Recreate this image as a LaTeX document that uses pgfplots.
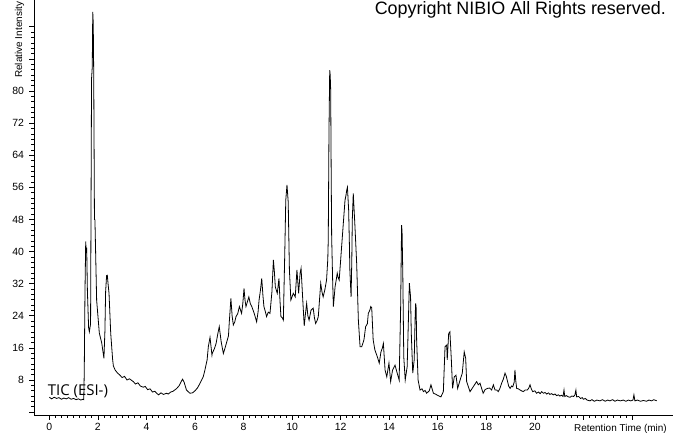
\documentclass[border=0pt]{standalone}
\usepackage{pgfplots}
\pgfplotsset{compat=1.18}
\usepackage{fontspec}
\setmainfont{Liberation Sans}
\newfontfamily\ticfont{Open Sans}
\begin{document}
\begin{tikzpicture}[x=1bp,y=1bp]
\useasboundingbox (0,0) rectangle (673,433);
\clip (0,0) rectangle (673,433);
\begin{axis}[
  at={(34bp,18bp)}, anchor=south west,
  scale only axis, width=639bp, height=415bp,
  xmin=-0.63, xmax=25.69, ymin=-0.72, ymax=102.67,
  axis x line=bottom, axis y line=left,
  axis line style={-, black, line width=0.8bp},
  tick align=outside,
  xtick={0,2,...,24}, xticklabels={0,2,4,6,8,10,12,14,16,18,20,,},
  ytick={0,8,...,96}, yticklabels={,8,16,24,32,40,48,56,64,72,80,,},
  minor x tick num=7, minor y tick num=5,
  major tick length=5bp, minor tick length=3bp,
  tick style={black, line width=0.6bp},
  tick label style={font=\fontsize{10.5}{12}\selectfont},
  yticklabel style={xshift=-1.5bp},
  /pgf/number format/assume math mode=true,
]
\addplot[black, line width=0.8bp] coordinates {
(0.0,3.7) (0.1,3.3) (0.2,3.7) (0.3,3.4) (0.4,3.6) (0.5,3.2) (0.6,3.5) (0.7,3.3) (0.8,3.6) (0.9,3.2) (1.0,3.4) (1.1,3.1) (1.2,3.3) (1.3,3.0) (1.38,3.2) (1.42,3.1)
(1.44,10) (1.47,30) (1.50,42.5) (1.52,39.6) (1.54,41) (1.57,30) (1.62,21) (1.65,20.0) (1.70,22)
(1.74,83) (1.77,86) (1.79,99.7) (1.81,97) (1.83,84) (1.86,48) (1.88,47.9) (1.95,27.9) (2.06,19.7) (2.16,17.2) (2.25,13.4)
(2.29,20) (2.32,30) (2.36,34) (2.39,34.1) (2.42,32) (2.46,29.6) (2.53,19.6) (2.61,13.0) (2.64,11.5) (2.71,10.5)
(2.80,9.8) (2.91,9.2) (3.0,8.6) (3.1,8.9) (3.2,8.0) (3.3,8.3) (3.46,7.6) (3.55,7.0) (3.65,7.3) (3.75,6.5) (3.87,6.2) (3.95,6.4) (4.05,5.6) (4.15,5.8) (4.25,5.0) (4.35,5.2) (4.42,4.7) (4.5,4.3) (4.6,4.8) (4.7,4.4) (4.83,4.7) (4.9,4.5) (5.0,5.0) (5.1,5.2) (5.25,5.9) (5.35,6.6) (5.45,7.8) (5.49,8.2) (5.55,7.5) (5.65,5.5) (5.79,4.7) (5.9,4.8) (6.0,5.3) (6.1,6.0) (6.21,7.2) (6.34,8.8) (6.41,10.5) (6.5,13.0) (6.55,16.3) (6.62,18.6) (6.70,14.2)
(6.71,14.6) (6.80,15.8) (6.87,17.1) (6.94,19.5) (7.0,21.3) (7.08,17.5) (7.17,14.6) (7.24,16.0) (7.31,17.5) (7.38,19.0) (7.41,22.1) (7.48,28.3) (7.53,24) (7.58,21.7) (7.64,22.5) (7.69,23.8) (7.76,24.5) (7.83,26.3) (7.92,24.6) (7.97,27) (8.02,30.8) (8.06,28) (8.10,26.3) (8.16,27.5) (8.22,28.7) (8.28,27.0) (8.34,26.3) (8.44,24.6) (8.54,22.5) (8.60,25) (8.64,27.9) (8.70,30.5) (8.75,33.3) (8.80,29) (8.84,26.3) (8.90,25) (8.95,23.8) (9.02,24.9) (9.09,24.6) (9.17,30.0) (9.23,37.9) (9.27,35) (9.31,31.2) (9.39,29.6) (9.46,33.3) (9.50,28) (9.54,23.8) (9.60,23.5) (9.64,22.9) (9.70,40) (9.74,52.8) (9.79,56.6) (9.84,52.4) (9.89,35.4) (9.95,27.9) (10.05,29.6) (10.13,28.7) (10.20,35.4) (10.27,29.6) (10.33,34.6) (10.37,35.8)
(10.44,28) (10.50,21.5) (10.56,25) (10.60,27.1) (10.65,24) (10.70,22.9) (10.78,25.4) (10.87,25.9) (10.92,23.5) (10.97,22.1) (11.03,22.8) (11.08,23.8) (11.13,28) (11.18,32.1) (11.23,30) (11.28,28.7) (11.35,30.5) (11.42,32.9) (11.47,38) (11.49,42.9) (11.52,70) (11.55,85.2) (11.57,84) (11.59,80.2) (11.61,60) (11.63,43.7) (11.67,33) (11.70,26.3) (11.74,29) (11.77,31.2) (11.82,33) (11.86,34.6) (11.90,33.5) (11.94,32.9) (11.99,37) (12.04,41.2) (12.11,47.0) (12.18,52.8) (12.22,54) (12.25,55.3) (12.28,56) (12.33,50.3) (12.36,42) (12.38,35.4) (12.43,28.7) (12.46,38) (12.48,47.9) (12.52,54.5) (12.59,46.2) (12.66,37.1) (12.73,22.9) (12.80,16.3) (12.87,16.3) (12.96,18.0) (13.03,21.3) (13.10,22) (13.14,24.6) (13.21,25.5) (13.24,26.3) (13.28,26.0)
(13.34,18.0) (13.41,15.5) (13.51,13.8) (13.59,12.2) (13.66,15.0) (13.72,16) (13.76,17.1) (13.83,10.5) (13.90,8.8) (13.99,12.2) (14.06,7.6) (14.14,10.5) (14.24,11.7) (14.33,9.7) (14.41,8.0) (14.47,25.4) (14.51,46.6) (14.53,45) (14.56,34.6) (14.60,13.8) (14.66,8.0) (14.74,11.3) (14.80,25) (14.83,32.1) (14.88,28.7) (14.91,19.6) (14.97,9.7) (15.03,13.0) (15.07,24) (15.09,27.1) (15.11,26) (15.13,18.0) (15.19,8.0) (15.27,5.5) (15.35,5.8) (15.41,5.1) (15.48,5.4) (15.54,4.7) (15.65,5.3) (15.72,6.8) (15.82,4.7) (15.90,4.5) (15.96,4.3) (16.05,4.0) (16.13,3.8) (16.23,5.1)
(16.30,16.3) (16.37,16.7) (16.39,13.0) (16.45,19.6) (16.50,20.0) (16.56,13.0) (16.61,5.9) (16.68,8.8) (16.75,9.2) (16.82,5.9) (16.92,8.0) (17.01,9.7) (17.09,15.0) (17.15,13.4) (17.19,7.6) (17.33,5.1) (17.46,6.3) (17.60,7.6) (17.67,6.8) (17.74,7.2) (17.87,4.7) (17.95,5.6) (18.04,5.9) (18.14,6.0) (18.22,5.5) (18.29,6.8) (18.36,5.5) (18.43,5.5) (18.49,5.1) (18.56,5.9) (18.63,7.2) (18.70,8.2) (18.77,9.7) (18.82,9.0) (18.86,8.0) (18.92,6.5) (18.98,5.9) (19.04,6.5) (19.09,6.3) (19.15,7.5) (19.18,10.5) (19.21,8) (19.25,5.9) (19.32,5.8) (19.39,5.5) (19.45,5.3) (19.52,5.1) (19.60,5.5) (19.69,5.5) (19.75,6.0) (19.80,6.8) (19.86,5.7) (19.91,5.1)
(20.0,5.3) (20.07,4.7) (20.15,5.0) (20.22,4.6) (20.28,5.1) (20.35,4.7) (20.42,4.9) (20.49,4.5) (20.56,4.8) (20.62,4.4) (20.69,4.6) (20.76,4.3) (20.83,4.5) (20.90,4.1) (20.97,4.3) (21.03,4.0) (21.10,4.2) (21.16,3.9) (21.20,5.5) (21.23,3.9) (21.30,4.1) (21.38,3.8) (21.45,3.7) (21.52,4.0) (21.60,3.9) (21.65,4.3) (21.69,5.5) (21.72,3.8) (21.80,3.9) (21.88,3.4) (21.95,3.6) (22.0,3.2) (22.08,3.4) (22.15,3.0) (22.27,2.8) (22.35,3.1) (22.45,2.7) (22.55,3.0) (22.68,2.8) (22.78,3.1) (22.9,2.7) (23.0,3.0) (23.09,2.8) (23.2,3.1) (23.3,2.7) (23.4,3.0) (23.52,2.8) (23.64,3.0) (23.75,2.7) (23.85,3.0) (23.95,2.8) (24.04,3.0) (24.08,4.3) (24.12,2.8) (24.22,3.0) (24.35,2.7) (24.47,2.9) (24.6,2.7) (24.7,3.0) (24.8,2.8) (24.9,3.1) (25.02,2.8)
};
\end{axis}
\node[anchor=base east, inner sep=0pt, font=\fontsize{18}{21}\selectfont] at (666,418) {Copyright NIBIO All Rights reserved.};
\node[anchor=base west, inner sep=0pt, font=\ticfont\fontsize{15}{18}\selectfont] at (47.7,37) {TIC (ESI-)};
\node[rotate=90, anchor=base west, inner sep=0pt, font=\fontsize{10}{12}\selectfont] at (22,355) {Relative Intensity};
\node[anchor=base east, inner sep=0pt, font=\fontsize{10}{12}\selectfont] at (667,1.5) {Retention Time (min)};
\end{tikzpicture}
\end{document}
